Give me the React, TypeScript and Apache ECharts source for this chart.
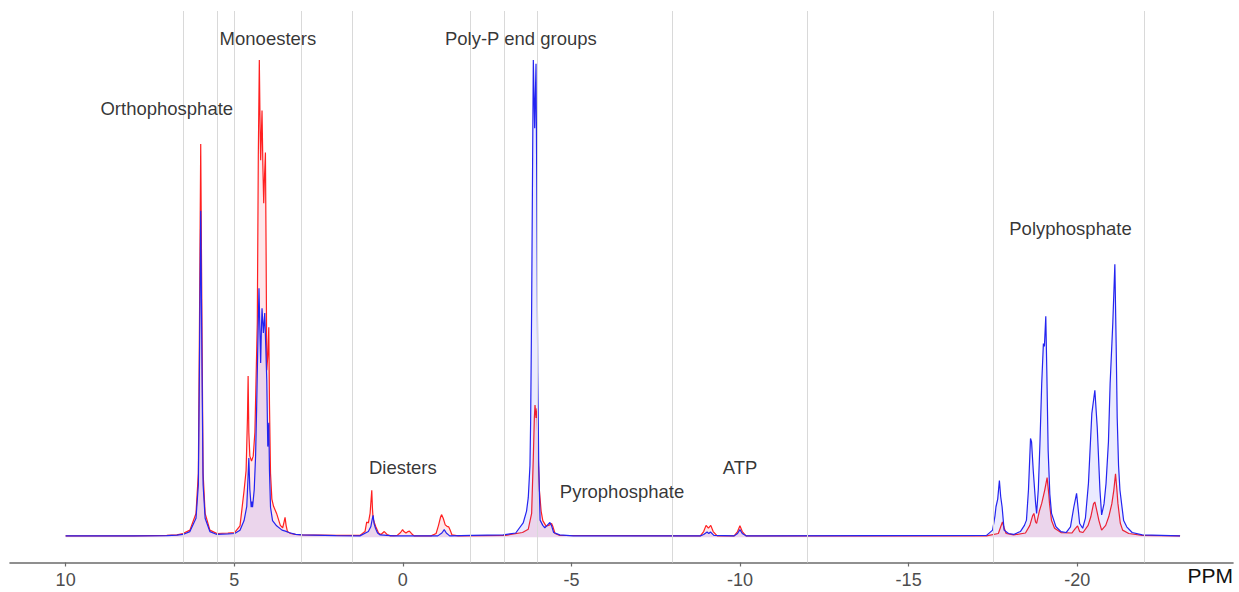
import React, { useEffect, useRef } from "react";
import * as echarts from "echarts";

// ppm, intensity (arbitrary units, tallest peak = 100)
const redSpectrum: [number, number][] = [
  [10.0, 0.3], [8.0, 0.3], [7.0, 0.4], [6.7, 0.5], [6.52, 0.8], [6.315, 1.5], [6.134, 5.0], [6.064, 13.4],
  [6.034, 41.3], [5.994, 82.4], [5.954, 41.3], [5.923, 13.4], [5.863, 5.0], [5.722, 1.5], [5.512, 0.8],
  [5.19, 0.9], [4.989, 1.0], [4.829, 2.4], [4.708, 9.8], [4.648, 14], [4.608, 25], [4.588, 33.8],
  [4.567, 22], [4.537, 17], [4.487, 16], [4.437, 17], [4.387, 22], [4.316, 45], [4.286, 80], [4.256, 100],
  [4.236, 88], [4.216, 79], [4.196, 84], [4.176, 89.4], [4.151, 78], [4.126, 70], [4.1, 76], [4.075, 80.6],
  [4.055, 60], [4.035, 35], [4.005, 38], [3.975, 44], [3.955, 28], [3.924, 13.4], [3.884, 8], [3.834, 6.5],
  [3.744, 5], [3.633, 2.5], [3.563, 2], [3.523, 3.2], [3.493, 4.2], [3.462, 2.5], [3.422, 1.2], [3.332, 0.8],
  [3.181, 0.6], [2.98, 0.5], [1.98, 0.4], [1.273, 0.4], [1.122, 1.2], [1.072, 3.2], [1.022, 3.0], [0.971, 5],
  [0.921, 9.85], [0.901, 6], [0.881, 3.9], [0.841, 3], [0.801, 2.2], [0.72, 0.9], [0.65, 0.6], [0.55, 1.2],
  [0.469, 0.6], [0.369, 0.3], [0.168, 0.4], [0.067, 1.0], [0.007, 1.6], [-0.033, 1.2], [-0.093, 0.9],
  [-0.154, 1.2], [-0.194, 1.3], [-0.254, 0.8], [-0.334, 0.3], [-0.837, 0.3], [-0.987, 0.8], [-1.058, 2.5],
  [-1.118, 4.2], [-1.148, 4.75], [-1.198, 4.0], [-1.258, 2.6], [-1.309, 2.3], [-1.359, 2.2], [-1.399, 1.6],
  [-1.459, 0.5], [-1.64, 0.3], [-3.046, 0.4], [-3.549, 1.0], [-3.72, 1.7], [-3.82, 5], [-3.87, 16.8],
  [-3.9, 25], [-3.92, 27.7], [-3.95, 25], [-3.98, 27], [-4.011, 18], [-4.051, 9.8], [-4.101, 5.5],
  [-4.151, 3.5], [-4.252, 2.3], [-4.352, 2.6], [-4.412, 2.9], [-4.453, 2.2], [-4.513, 0.8], [-4.653, 0.4],
  [-8.822, 0.3], [-8.922, 1.2], [-8.993, 2.5], [-9.063, 1.9], [-9.133, 2.5], [-9.204, 1.2], [-9.324, 0.3],
  [-9.826, 0.3], [-9.927, 1.2], [-9.997, 2.4], [-10.067, 1.2], [-10.178, 0.3], [-17.31, 0.3],
  [-17.661, 0.8], [-17.731, 2.2], [-17.782, 3.2], [-17.832, 2], [-17.892, 0.8], [-18.113, 0.5],
  [-18.465, 0.9], [-18.595, 2.5], [-18.676, 4.5], [-18.716, 5.0], [-18.766, 3.2], [-18.796, 2.9],
  [-18.877, 5.5], [-18.947, 7.1], [-19.037, 9.9], [-19.107, 12.5], [-19.158, 9], [-19.178, 7.1],
  [-19.238, 3.5], [-19.328, 1.9], [-19.519, 1.0], [-19.84, 0.9], [-19.941, 1.8], [-20.011, 2.4],
  [-20.071, 1.2], [-20.172, 1.0], [-20.323, 2.5], [-20.403, 4.3], [-20.483, 7], [-20.523, 7.4],
  [-20.584, 5.5], [-20.644, 3.5], [-20.724, 1.5], [-20.845, 2.5], [-20.935, 4.3], [-21.026, 7],
  [-21.086, 9.9], [-21.136, 13.3], [-21.176, 10], [-21.207, 7.1], [-21.277, 3], [-21.347, 1.5],
  [-21.528, 0.8], [-21.93, 0.4], [-23.05, 0.3],
];

const blueSpectrum: [number, number][] = [
  [10.0, 0.3], [8.0, 0.3], [7.0, 0.35], [6.7, 0.45], [6.52, 0.6], [6.315, 1.2], [6.134, 4.0], [6.064, 11],
  [6.034, 34], [5.994, 68.4], [5.954, 34], [5.923, 11], [5.863, 4.0], [5.722, 1.2], [5.512, 0.6],
  [5.19, 0.7], [4.989, 0.8], [4.829, 1.5], [4.708, 3.5], [4.628, 6.5], [4.588, 13], [4.567, 16.6],
  [4.537, 10], [4.497, 6.3], [4.477, 7.5], [4.457, 6.3], [4.407, 10], [4.367, 17], [4.336, 27], [4.296, 42],
  [4.266, 52.2], [4.241, 44], [4.216, 36.5], [4.196, 43], [4.176, 48], [4.136, 42.8], [4.095, 47],
  [4.065, 40], [4.035, 33], [4.005, 19], [3.975, 24], [3.955, 14], [3.924, 6.3], [3.864, 3.5],
  [3.744, 2.4], [3.583, 1.5], [3.483, 1.3], [3.382, 1.0], [3.181, 0.6], [2.98, 0.5], [1.98, 0.35],
  [1.273, 0.3], [1.022, 1.2], [0.951, 2.2], [0.901, 4.0], [0.881, 4.6], [0.851, 2.8], [0.811, 1.9],
  [0.75, 0.9], [0.67, 0.5], [0.268, 0.3], [-1.037, 0.3], [-1.158, 0.9], [-1.228, 1.6], [-1.289, 0.9],
  [-1.389, 0.3], [-2.042, 0.4], [-2.976, 0.5], [-3.348, 0.9], [-3.569, 3], [-3.669, 5.5], [-3.72, 8.3],
  [-3.77, 15], [-3.79, 24], [-3.82, 48], [-3.85, 80], [-3.87, 100], [-3.91, 85.7], [-3.95, 99.2],
  [-3.971, 75], [-4.001, 34.4], [-4.031, 15], [-4.071, 3.6], [-4.151, 2.5], [-4.211, 2], [-4.292, 2.6],
  [-4.362, 3.1], [-4.412, 2.4], [-4.473, 1.0], [-4.653, 0.5], [-5.055, 0.3], [-8.822, 0.3],
  [-8.922, 0.6], [-9.023, 1.1], [-9.073, 0.8], [-9.123, 1.1], [-9.224, 0.4], [-9.826, 0.3],
  [-9.927, 0.8], [-9.997, 1.6], [-10.067, 0.8], [-10.178, 0.3], [-17.31, 0.4], [-17.491, 1.5],
  [-17.561, 4.5], [-17.591, 6.4], [-17.642, 8], [-17.692, 11.9], [-17.731, 8.5], [-17.772, 6.4],
  [-17.832, 1.5], [-17.963, 0.8], [-18.113, 0.6], [-18.314, 1.2], [-18.434, 2.5], [-18.495, 3.6],
  [-18.555, 10], [-18.615, 20.7], [-18.646, 20], [-18.696, 14], [-18.766, 7.1], [-18.796, 5.0],
  [-18.846, 10], [-18.896, 20], [-18.947, 32.2], [-18.997, 40.6], [-19.027, 40], [-19.068, 46.3],
  [-19.098, 35], [-19.138, 18.2], [-19.188, 9], [-19.238, 5], [-19.369, 2.2], [-19.519, 1.2],
  [-19.67, 1.0], [-19.8, 2.2], [-19.901, 6.4], [-19.981, 9.2], [-20.042, 5], [-20.072, 2.9],
  [-20.162, 1.9], [-20.243, 4], [-20.333, 11.3], [-20.433, 25.9], [-20.523, 30.8], [-20.594, 23],
  [-20.674, 9.9], [-20.724, 4.7], [-20.795, 7], [-20.855, 11.3], [-20.926, 20], [-20.976, 32.2],
  [-21.056, 45], [-21.116, 57.2], [-21.156, 40], [-21.186, 25], [-21.226, 15], [-21.267, 9.9],
  [-21.377, 3.5], [-21.468, 2.2], [-21.629, 1.0], [-21.93, 0.5], [-23.05, 0.3],
];

const tickValues = [10, 5, 0, -5, -10, -15, -20];
const regionBoundaries = [6.5, 5.5, 5, 3, 1.5, -2, -3, -4, -8, -12, -17.5, -22];

const annotationNames = ["Orthophosphate", "Monoesters", "Poly-P end groups", "Diesters", "Pyrophosphate", "ATP", "Polyphosphate"];
const annotationPpm = [7.0, 4.0, -3.5, 0.0, -6.5, -10.0, -19.8];
const annotationHeight = [89.9, 104.5, 104.5, 14.6, 9.5, 14.7, 64.6];

export default function App() {
  const ref = useRef<HTMLDivElement>(null);

  useEffect(() => {
    if (!ref.current) return;
    const chart = echarts.init(ref.current, null, { renderer: "svg" });
    const font = "'Liberation Sans', Arial, sans-serif";
    chart.setOption({
      animation: false,
      backgroundColor: "#ffffff",
      grid: { left: 10, right: 6, top: 11, bottom: 29.5, containLabel: false },
      xAxis: {
        type: "value",
        inverse: true,
        min: -24.62,
        max: 11.65,
        axisLine: { show: true, onZero: false, lineStyle: { color: "#6b6b6b", width: 1.6 } },
        axisTick: { show: true, length: 4, lineStyle: { color: "#6b6b6b", width: 1.2 }, customValues: tickValues },
        axisLabel: { show: true, fontSize: 18, color: "#4d4d4d", fontFamily: font, margin: 8, customValues: tickValues },
        splitLine: { show: false },
      },
      yAxis: {
        type: "value",
        min: -5.28,
        max: 110.27,
        show: false,
        splitLine: { show: false },
      },
      graphic: [
        {
          type: "text",
          right: 6,
          top: 565,
          style: { text: "PPM", fontSize: 21, fill: "#111111", fontFamily: font },
        },
      ],
      series: [
        {
          type: "line",
          data: [[0, -100]],
          symbol: "none",
          lineStyle: { width: 0, opacity: 0 },
          silent: true,
          z: 1,
          markLine: {
            silent: true,
            symbol: ["none", "none"],
            label: { show: false },
            lineStyle: { color: "#d9d9d9", width: 1, type: "solid" },
            data: regionBoundaries.map((v) => ({ xAxis: v })),
          },
        },
        {
          name: "red",
          type: "line",
          data: redSpectrum,
          symbol: "none",
          smooth: false,
          z: 3,
          lineStyle: { color: "#ff2020", width: 1.2 },
          areaStyle: { color: "rgba(255,40,70,0.16)", origin: 0 },
        },
        {
          name: "blue",
          type: "line",
          data: blueSpectrum,
          symbol: "none",
          smooth: false,
          z: 4,
          lineStyle: { color: "#2424f0", width: 1.2 },
          areaStyle: { color: "rgba(50,50,255,0.14)", origin: 0 },
        },
        {
          type: "scatter",
          data: annotationNames.map((n, i) => ({ value: [annotationPpm[i], annotationHeight[i]], name: n })),
          symbolSize: 1,
          itemStyle: { color: "rgba(0,0,0,0)" },
          z: 5,
          silent: true,
          label: {
            show: true,
            position: "inside",
            formatter: (p: any) => p.name,
            fontSize: 18.5,
            color: "#000000",
            textBorderWidth: 0,
            fontFamily: font,
          },
        },
      ],
    });
    return () => chart.dispose();
  }, []);

  return (
    <div
      ref={ref}
      style={{ position: "fixed", left: 0, top: 0, width: 1239, height: 592, background: "#fff" }}
    />
  );
}
